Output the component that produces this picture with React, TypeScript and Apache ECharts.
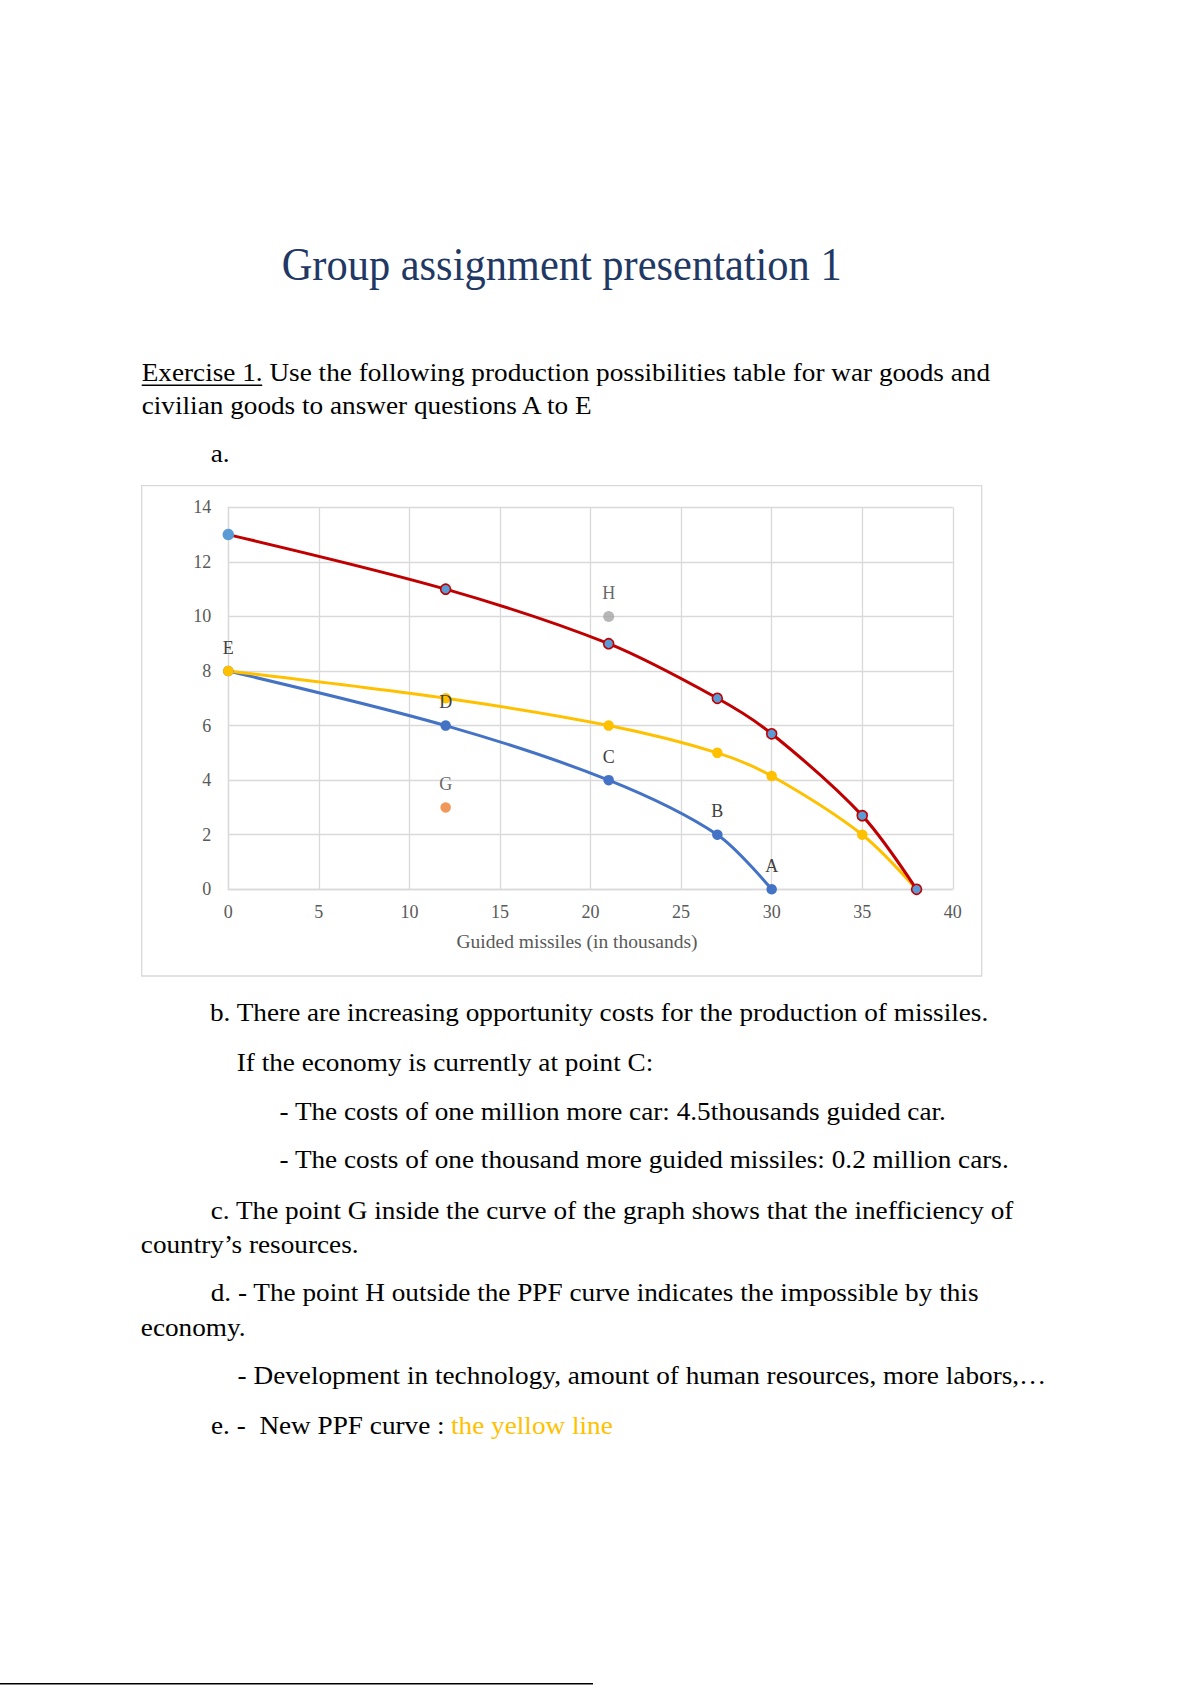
import React, { useEffect, useRef } from 'react';
import * as echarts from 'echarts';

// ---- Chart data ----
const blueX = [0, 12, 21, 27, 30];
const blueY = [8, 6, 4, 2, 0];
const blueLabels = ['E', 'D', 'C', 'B', 'A'];
const yellowX = [0, 12, 21, 27, 30, 35, 38];
const yellowY = [8, 7, 6, 5, 4.15, 2, 0];
const redX = [0, 12, 21, 27, 30, 35, 38];
const redY = [13, 11, 9, 7, 5.7, 2.7, 0];
const pointH = [21, 10];
const pointG = [12, 3];
const xAxisTitle = 'Guided missiles (in thousands)';

// ---- Document text ----
const docTitle = 'Group assignment presentation 1';
const exerciseLabel = 'Exercise 1.';
const exerciseRest = ' Use the following production possibilities table for war goods and';
const line2 = 'civilian goods to answer questions A to E';
const partA = 'a.';
const partB = 'b. There are increasing opportunity costs for the production of missiles.';
const partB1 = 'If the economy is currently at point C:';
const partB2 = '- The costs of one million more car: 4.5thousands guided car.';
const partB3 = '- The costs of one thousand more guided missiles: 0.2 million cars.';
const partC1 = 'c. The point G inside the curve of the graph shows that the inefficiency of';
const partC2 = 'country\u2019s resources.';
const partD1 = 'd. - The point H outside the PPF curve indicates the impossible by this';
const partD2 = 'economy.';
const partD3 = '- Development in technology, amount of human resources, more labors,\u2026';
const partE1 = 'e. -\u00a0 New PPF curve : ';
const partE2 = 'the yellow line';

const SERIF = "'Liberation Serif', 'Times New Roman', serif";

function txt(text: string, x: number, baseline: number, size: number, scaleX: number, fill: string) {
  return {
    type: 'text',
    x,
    y: baseline - 0.3375 * size,
    scaleX,
    z: 100,
    silent: true,
    style: {
      text,
      fontFamily: SERIF,
      fontSize: size,
      fill,
      textAlign: 'left',
      verticalAlign: 'middle',
      textVerticalAlign: 'middle',
    },
  };
}

export default function App() {
  const ref = useRef<HTMLDivElement>(null);

  useEffect(() => {
    if (!ref.current) return;
    const chart = echarts.init(ref.current, undefined, { renderer: 'svg' });

    const BS = 24.5; // body font size
    const BX = 1.112; // body horizontal scale
    const gridColor = '#d9d9d9';
    const labelStyle = {
      show: true,
      position: 'top',
      distance: 9,
      fontFamily: SERIF,
      fontSize: 18,
      color: '#404040',
    };

    const option: any = {
      animation: false,
      backgroundColor: '#ffffff',
      grid: { left: 228.3, top: 507.3, width: 724.5, height: 382, containLabel: false },
      xAxis: {
        type: 'value',
        min: 0,
        max: 40,
        interval: 5,
        name: xAxisTitle,
        nameLocation: 'middle',
        nameGap: 42.5,
        nameTextStyle: {
          fontFamily: SERIF,
          fontSize: 19.5,
          color: '#595959',
          padding: [0, 27, 0, 0],
        },
        axisLine: { show: true, lineStyle: { color: gridColor, width: 1.3 } },
        axisTick: { show: false },
        axisLabel: { margin: 14, fontFamily: SERIF, fontSize: 18, color: '#595959' },
        splitLine: { show: true, lineStyle: { color: gridColor, width: 1.3 } },
      },
      yAxis: {
        type: 'value',
        min: 0,
        max: 14,
        interval: 2,
        axisLine: { show: true, lineStyle: { color: gridColor, width: 1.3 } },
        axisTick: { show: false },
        axisLabel: { margin: 17, fontFamily: SERIF, fontSize: 18, color: '#595959' },
        splitLine: { show: true, lineStyle: { color: gridColor, width: 1.3 } },
      },
      series: [
        {
          type: 'line',
          name: 'PPF',
          smooth: 0.3,
          symbol: 'circle',
          symbolSize: 10.5,
          showSymbol: true,
          silent: true,
          emphasis: { disabled: true },
          lineStyle: { color: '#4472C4', width: 3 },
          itemStyle: { color: '#4472C4' },
          label: labelStyle,
          data: blueX.map((x, i) => ({
            value: [x, blueY[i]],
            label: { formatter: blueLabels[i] },
          })),
        },
        {
          type: 'line',
          name: 'New PPF',
          smooth: 0.3,
          symbol: 'circle',
          symbolSize: 10.5,
          showSymbol: true,
          silent: true,
          emphasis: { disabled: true },
          lineStyle: { color: '#FFC000', width: 3 },
          itemStyle: { color: '#FFC000' },
          data: yellowX.map((x, i) => [x, yellowY[i]]),
        },
        {
          type: 'line',
          name: 'Shifted PPF',
          smooth: 0.3,
          symbol: 'circle',
          symbolSize: 10,
          showSymbol: true,
          silent: true,
          emphasis: { disabled: true },
          lineStyle: { color: '#C00000', width: 3 },
          itemStyle: { color: '#5B9BD5', borderColor: '#C00000', borderWidth: 1.6 },
          data: redX.map((x, i) =>
            i === 0
              ? { value: [x, redY[i]], symbolSize: 11.5, itemStyle: { borderWidth: 0 } }
              : { value: [x, redY[i]] }
          ),
        },
        {
          type: 'scatter',
          name: 'H',
          symbol: 'circle',
          symbolSize: 11,
          silent: true,
          emphasis: { disabled: true },
          itemStyle: { color: '#A5A5A5' },
          label: { ...labelStyle, formatter: 'H' },
          data: [pointH],
        },
        {
          type: 'scatter',
          name: 'G',
          symbol: 'circle',
          symbolSize: 10.5,
          silent: true,
          emphasis: { disabled: true },
          itemStyle: { color: '#ED7D31' },
          label: { ...labelStyle, formatter: 'G' },
          data: [pointG],
        },
      ],
      graphic: [
        {
          type: 'rect',
          z: 0,
          silent: true,
          shape: { x: 141.7, y: 485.7, width: 840, height: 490.3 },
          style: { fill: 'none', stroke: gridColor, lineWidth: 1.3 },
        },
        txt(docTitle, 281.7, 280, 46, 0.923, '#1F3864'),
        txt(exerciseLabel + exerciseRest, 141.7, 381.5, BS, BX, '#000000'),
        {
          type: 'rect',
          z: 100,
          silent: true,
          shape: { x: 141.7, y: 384.5, width: 120.5, height: 1.4 },
          style: { fill: '#000000' },
        },
        txt(line2, 141.7, 414, BS, BX, '#000000'),
        txt(partA, 210.7, 462.5, BS, BX, '#000000'),
        txt(partB, 210, 1021, BS, BX, '#000000'),
        txt(partB1, 236.7, 1071, BS, BX, '#000000'),
        txt(partB2, 279.5, 1120.5, BS, BX, '#000000'),
        txt(partB3, 279.5, 1168.5, BS, BX, '#000000'),
        txt(partC1, 210.7, 1219.5, BS, BX, '#000000'),
        txt(partC2, 140.8, 1253, BS, BX, '#000000'),
        txt(partD1, 210.7, 1301, BS, BX, '#000000'),
        txt(partD2, 140.8, 1336.5, BS, BX, '#000000'),
        txt(partD3, 237.6, 1384.5, BS, BX, '#000000'),
        txt(partE1, 211, 1434.5, BS, BX, '#000000'),
        txt(partE2, 451, 1434.5, BS, BX, '#FFC000'),
        {
          type: 'rect',
          z: 100,
          silent: true,
          shape: { x: 0, y: 1683, width: 593, height: 1.5 },
          style: { fill: '#000000' },
        },
      ],
    };

    chart.setOption(option);
    return () => {
      chart.dispose();
    };
  }, []);

  return (
    <div
      ref={ref}
      style={{ position: 'absolute', left: 0, top: 0, width: 1191, height: 1685, background: '#fff' }}
    />
  );
}
